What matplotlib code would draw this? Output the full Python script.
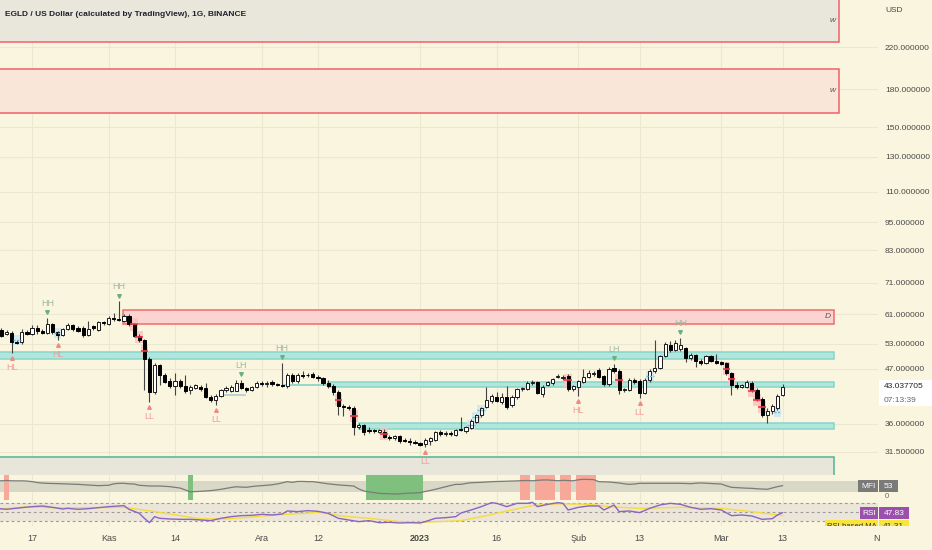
import numpy as np
import matplotlib
matplotlib.use('Agg')
import matplotlib.pyplot as plt
from matplotlib.patches import Rectangle
from matplotlib.transforms import offset_copy
import matplotlib.ticker as mticker

plt.rcParams['font.family'] = ['Liberation Sans', 'DejaVu Sans']

# ---------------- data ----------------
# day index 0 = 10 Oct 2022, 154 = 13 Mar 2023
opens = [56.0, 56.5, 55.5, 55.7, 53.5, 53.3, 56.0, 55.5, 57.1, 56.4,
         55.7, 58.3, 55.9, 55.3, 56.8, 57.9, 57.1, 57.1, 55.2, 57.6,
         56.6, 58.8, 58.3, 59.8, 59.5, 59.0, 60.6, 58.3, 55.0, 53.9,
         49.3, 42.0, 47.8, 45.6, 44.2, 43.2, 44.2, 43.3, 42.3, 42.9,
         43.0, 42.9, 41.0, 40.4, 41.2, 42.4, 42.2, 42.2, 43.8, 42.8,
         42.4, 43.0, 43.9, 43.6, 44.0, 43.6, 43.5, 43.2, 45.6, 44.2,
         45.6, 45.6, 45.8, 45.1, 44.8, 43.9, 43.2, 42.0, 39.2, 39.1,
         38.9, 35.4, 35.8, 35.0, 34.9, 34.7, 34.7, 33.8, 33.6, 33.9,
         33.3, 33.1, 33.0, 32.8, 32.7, 33.2, 33.4, 34.6, 34.3, 34.5,
         34.2, 35.2, 34.8, 35.3, 36.4, 37.5, 39.0, 40.3, 41.0, 40.0,
         41.0, 39.4, 40.9, 42.5, 42.6, 43.8, 44.0, 41.5, 43.5, 43.8,
         45.1, 44.9, 45.4, 42.5, 43.0, 44.1, 45.1, 45.7, 46.6, 45.3,
         43.6, 47.1, 46.5, 42.3, 42.4, 44.4, 44.3, 41.8, 44.4, 46.4,
         47.2, 50.0, 52.7, 51.5, 51.7, 51.8, 49.5, 50.2, 48.7, 48.3,
         49.8, 48.7, 48.4, 48.3, 46.0, 43.5, 43.1, 43.1, 43.9, 42.4,
         40.6, 37.6, 38.4, 38.8, 41.3]
highs = [57.4, 57.0, 56.5, 56.2, 54.0, 56.8, 56.5, 57.8, 57.8, 56.9,
         60.0, 58.6, 56.4, 57.2, 58.6, 58.3, 57.6, 57.6, 59.0, 58.0,
         59.2, 59.2, 60.6, 61.5, 64.9, 61.0, 61.0, 58.6, 55.4, 54.2,
         49.6, 48.2, 48.0, 46.0, 44.8, 46.1, 44.6, 45.6, 43.5, 43.6,
         43.4, 43.8, 41.4, 41.5, 42.6, 43.2, 43.4, 44.5, 44.5, 43.1,
         43.3, 44.3, 44.2, 44.3, 44.4, 43.9, 48.3, 46.0, 46.0, 45.9,
         46.4, 46.1, 46.2, 45.5, 45.2, 44.4, 43.6, 42.4, 39.6, 39.4,
         39.2, 36.2, 36.0, 35.4, 35.2, 35.1, 35.2, 34.1, 34.2, 34.1,
         33.6, 33.6, 33.3, 33.0, 33.6, 33.8, 34.8, 35.0, 34.8, 34.8,
         35.2, 37.3, 35.6, 36.8, 37.8, 39.1, 43.0, 41.5, 42.0, 41.8,
         43.2, 41.3, 42.9, 43.1, 44.2, 44.4, 44.3, 43.4, 44.3, 44.9,
         45.8, 45.6, 45.8, 43.5, 44.4, 47.0, 46.6, 46.4, 47.1, 45.6,
         47.4, 48.0, 46.8, 42.9, 44.8, 44.8, 44.6, 44.8, 46.8, 53.8,
         50.2, 53.4, 53.6, 53.8, 54.4, 52.2, 50.6, 50.5, 49.2, 50.2,
         50.2, 50.5, 48.8, 48.6, 46.3, 44.0, 43.6, 44.5, 44.3, 42.7,
         41.0, 38.8, 39.6, 41.6, 43.7]
lows = [55.6, 54.6, 55.2, 50.6, 52.8, 53.0, 55.1, 55.2, 55.6, 55.4,
        55.4, 55.5, 53.9, 55.0, 56.5, 56.4, 56.0, 54.8, 54.9, 56.6,
        56.3, 58.0, 58.0, 59.0, 59.0, 58.7, 57.6, 54.6, 53.5, 42.4,
        40.0, 41.5, 43.5, 43.8, 42.8, 41.3, 42.8, 41.8, 41.6, 42.5,
        42.2, 40.8, 40.1, 39.4, 40.9, 42.0, 41.9, 42.6, 42.5, 41.9,
        42.1, 42.8, 43.3, 43.0, 43.3, 43.2, 43.0, 42.9, 43.9, 43.9,
        45.0, 45.1, 44.8, 44.3, 43.5, 42.8, 41.4, 37.6, 37.4, 38.5,
        34.2, 35.1, 34.2, 34.4, 34.5, 34.4, 33.6, 33.4, 33.4, 32.9,
        33.0, 32.6, 32.7, 32.4, 32.3, 32.5, 33.2, 34.0, 34.0, 34.0,
        33.9, 34.8, 34.5, 35.1, 36.1, 37.3, 38.8, 39.9, 40.0, 39.7,
        38.6, 39.1, 40.6, 42.1, 42.4, 43.4, 41.5, 41.0, 43.2, 43.5,
        44.8, 44.5, 42.2, 42.1, 41.2, 43.8, 44.8, 45.3, 45.0, 43.3,
        43.3, 46.1, 41.6, 41.9, 42.1, 43.6, 40.8, 41.5, 44.1, 46.0,
        46.8, 49.6, 51.0, 51.1, 51.2, 48.6, 49.0, 47.4, 47.8, 48.0,
        48.4, 48.0, 47.7, 45.6, 41.4, 42.6, 42.8, 42.9, 42.0, 40.2,
        37.2, 36.2, 37.8, 38.5, 41.1]
closes = [56.5, 54.9, 56.0, 53.3, 53.1, 56.0, 55.5, 57.1, 56.2, 55.8,
          58.3, 55.9, 55.1, 56.8, 57.9, 56.8, 56.4, 55.2, 56.9, 57.0,
          58.8, 58.4, 60.0, 59.5, 59.4, 60.6, 58.1, 55.0, 53.9, 49.3,
          42.0, 47.8, 45.6, 44.0, 43.2, 44.2, 43.3, 42.2, 43.1, 43.4,
          42.5, 41.0, 40.4, 41.2, 42.4, 42.9, 43.1, 43.8, 42.8, 42.4,
          43.0, 43.9, 43.6, 43.9, 43.6, 43.5, 43.2, 45.6, 44.2, 45.5,
          45.4, 45.5, 45.1, 44.8, 43.9, 43.2, 42.0, 39.2, 39.0, 38.9,
          35.4, 35.9, 34.6, 34.8, 34.8, 35.0, 33.8, 33.6, 33.9, 33.1,
          33.2, 33.0, 32.9, 32.6, 33.4, 33.6, 34.6, 34.3, 34.5, 34.3,
          35.0, 35.0, 35.4, 36.6, 37.6, 38.9, 40.4, 41.1, 40.3, 41.0,
          39.1, 41.0, 42.6, 42.8, 43.9, 44.1, 41.8, 43.1, 44.0, 44.6,
          45.4, 45.2, 42.6, 43.3, 44.2, 45.1, 46.1, 46.1, 45.2, 43.6,
          46.9, 46.5, 42.3, 42.6, 44.5, 44.0, 41.8, 44.5, 46.4, 47.2,
          49.8, 52.9, 51.5, 53.2, 52.7, 49.4, 50.2, 48.7, 48.2, 49.8,
          48.7, 48.2, 48.0, 46.0, 43.5, 43.1, 43.4, 44.0, 42.4, 40.6,
          37.6, 38.3, 39.2, 41.2, 43.037705]

mfi = [80, 79.5, 81, 79.5, 79, 79.5, 78, 75, 70, 67,
       65.6, 65, 64, 63, 62, 61, 60, 58, 56.5, 55,
       53, 54, 55, 63, 65.6, 65.6, 63, 62, 55, 53,
       51, 51, 51, 49, 47.5, 44, 40, 30, 19.5, 20.5,
       22, 24, 26, 29, 33, 38, 43, 47, 45, 44,
       48, 51, 53, 55, 58, 62, 68, 75, 71, 76,
       76, 75, 75, 71, 67, 63, 60, 57, 55, 53,
       51, 35, 24, 19, 15, 11, 10, 9, 7.5, 8,
       11, 12, 13, 15, 21, 27, 33, 40, 47, 54,
       60, 60, 65, 69, 70, 71, 73, 74.7, 75.5, 76.5,
       77, 78, 79, 80.5, 81, 79.5, 82, 83.8, 84, 82,
       79.8, 82, 81, 79.5, 85, 87.5, 87, 86, 74.7, 74,
       73, 70, 67.5, 63, 60, 62, 65.6, 65.6, 65.6, 65.6,
       65.6, 65.6, 65.6, 65, 65.6, 64.5, 63.8, 66, 67.5, 66,
       64, 63, 62, 52, 43.8, 42, 40, 39, 38.4, 36,
       34.7, 33, 40, 47.5, 53]

rsi_days = [0, 2, 5, 7, 9, 11, 13, 14, 16, 18, 20, 22, 24, 25, 26, 28, 29, 30, 31, 32,
            34, 36, 38, 40, 42, 44, 46, 48, 50, 52, 54, 56, 57, 59, 61, 63, 65, 67, 69, 71,
            73, 75, 77, 79, 81, 83, 84, 86, 88, 90, 91, 93, 95, 97, 98, 100, 102, 104, 105, 106,
            108, 110, 111, 112, 114, 116, 118, 119, 121, 122, 124, 126, 128, 130, 132, 134, 136, 138, 140, 142,
            144, 146, 148, 150, 152, 153, 154]
rsi_vals = [57.5, 55.3, 59, 61.2, 62.7, 59.7, 56, 57.5, 55.3, 56.7, 59, 61.2, 62.7, 63.4, 55.3, 46.4, 35.3, 25.6, 39, 35.3,
            33.8, 33, 33, 31.6, 30.1, 35.3, 39, 41.2, 41.9, 44.2, 42.7, 44.9, 51.6, 50.1, 52.3, 50.8, 46.4, 35.3, 31.6, 27.9,
            30.1, 25.6, 26.4, 24.9, 25.6, 24.9, 27.9, 35.3, 36.7, 39, 47, 53.8, 61.2, 70.1, 68.6, 61.2, 68.6, 68.6, 70.8, 61.2,
            66.4, 70.1, 68.6, 53.8, 59.7, 62.7, 62.7, 53.8, 64.9, 50.1, 51.6, 47.9, 57.5, 64.9, 68.6, 66.4, 59.7, 55.3, 56.7, 53.8,
            41.2, 42.7, 40.4, 33, 34.5, 42.7, 47.83]
ma_days = [0, 6, 13, 20, 25, 30, 35, 40, 45, 50, 55, 60, 63, 68, 73, 79, 83, 89, 91, 95,
           101, 105, 110, 116, 120, 126, 134, 142, 148, 153, 154]
ma_vals = [55.3, 60.5, 58.5, 59, 59.7, 52, 43, 34, 34, 38, 43, 46, 49, 40, 35.3, 27.9, 26.4, 29, 30.1, 39,
           53.8, 63.5, 67.5, 66.5, 61.2, 57.5, 59.7, 57.5, 50.1, 42.7, 41.31]

price_ticks = [220, 180, 150, 130, 110, 95, 83, 71, 61, 53, 47, 36, 31.5]
date_days = [7, 22, 35, 52, 63, 83, 98, 114, 126, 142, 154, 172.5]
date_labels = ['17', 'Kas', '14', 'Ara', '12', '2023', '16', 'Şub', '13', 'Mar', '13', 'N']

top_swings_days = [10, 24, 48, 56, 121, 134]
top_swings_lbl = ['HH', 'HH', 'LH', 'HH', 'LH', 'HH']
bot_swings_days = [3, 12, 30, 43, 84, 114, 126]
bot_swings_lbl = ['HL', 'HL', 'LL', 'LL', 'LL', 'HL', 'LL']

red_sig_days = [27, 28, 29, 67, 70, 76, 112, 122, 143, 144, 148, 149, 150]
red_sig_lvls = [58.1, 54.7, 51.1, 40.4, 37.4, 34.3, 44.4, 44.5, 47.0, 44.6, 42.2, 40.4, 39.0]
blue_sig_days = [4, 12, 93, 94, 95, 128, 153]
blue_sig_lvls = [54.0, 55.7, 35.8, 37.2, 38.5, 45.4, 38.2]

# zones: (start day, end day, low price, high price, fill, edge, label)
zones = [
    (-5, 165, 226.0, 400.0, '#e9e7db', '#f0606a', 'w'),
    (-5, 165, 160.7, 198.3, '#f9e6d8', '#f0606a', 'w'),
    (24.9, 164, 58.3, 62.2, '#fbd4d2', '#ee6b6b', 'D'),
    (-5, 164, 49.1, 50.9, '#b2e6dc', '#86d6cb', ''),
    (65, 164, 43.0, 44.0, '#b2e6dc', '#86d6cb', ''),
    (71, 164, 35.1, 36.2, '#b2e6dc', '#86d6cb', ''),
    (-5, 164, 20.0, 30.7, '#e8e6da', '#4fb596', ''),
]

BG = '#f9f5de'
GRID = '#ece8d0'
TXT = '#4a4a4a'
W, H = 932, 550

fig = plt.figure(figsize=(W / 100, H / 100), dpi=100, facecolor=BG)


def fax(x0, y0, x1, y1):
    a = fig.add_axes([x0 / W, 1 - y1 / H, (x1 - x0) / W, (y1 - y0) / H])
    a.set_facecolor(BG)
    for s in a.spines.values():
        s.set_visible(False)
    return a


XL = (0.725, 172.7)
ax = fax(0, 0, 878, 475)
axm = fax(0, 475, 878, 500)
axr = fax(0, 500, 878, 526)

# ---------------- main pane ----------------
ax.set_yscale('log')
ax.set_ylim(28.17, 276.4)
ax.set_xlim(*XL)
for p in price_ticks:
    ax.axhline(p, color=GRID, lw=0.8, zorder=0)
for a_ in (ax, axm, axr):
    for dd in date_days[:-1]:
        a_.axvline(dd, color=GRID, lw=0.8, zorder=0)

for (x0, x1, lo, hi, fc, ec, lbl) in zones:
    ax.add_patch(Rectangle((x0, lo), x1 - x0, hi - lo, facecolor=fc, edgecolor=ec,
                           lw=1.1, zorder=1))
    if lbl:
        top = min(hi, ax.get_ylim()[1])
        ax.text(x1 - 0.6, np.sqrt(lo * top), lbl, fontsize=6, style='italic',
                color='#555555', ha='right', va='center', zorder=7)

# small helper lines
ax.hlines(41.4, 44, 49, color='#b5c9d6', lw=1.2, zorder=2)
ax.hlines(43.5, 56, 65, color='#80d4c9', lw=1.2, zorder=2)

d = np.arange(len(closes))
o = np.array(opens); c = np.array(closes); hi_ = np.array(highs); lo_ = np.array(lows)
up = c >= o

# signal boxes
for dd, lv in zip(red_sig_days, red_sig_lvls):
    ax.add_patch(Rectangle((dd - 0.75, lv / 1.03), 1.5, lv * 1.03 - lv / 1.03,
                           facecolor='#f8c4c0', edgecolor='none', alpha=0.85, zorder=3))
for dd, lv in zip(blue_sig_days, blue_sig_lvls):
    ax.add_patch(Rectangle((dd - 0.75, lv / 1.025), 1.5, lv * 1.025 - lv / 1.025,
                           facecolor='#cfe8f0', edgecolor='none', alpha=0.85, zorder=3))

ax.vlines(d, lo_, hi_, color='#444444', lw=0.8, zorder=4)
ax.bar(d[up], np.maximum((c - o)[up], 0.05), bottom=o[up], width=0.62, color='white',
       edgecolor='#1a1a1a', lw=0.7, zorder=5)
ax.bar(d[~up], (o - c)[~up], bottom=c[~up], width=0.62, color='#000000',
       edgecolor='#000000', lw=0.7, zorder=5)

ax.hlines(red_sig_lvls, np.array(red_sig_days) - 0.75, np.array(red_sig_days) + 0.75,
          color='#f23645', lw=1.2, zorder=6)
ax.hlines(blue_sig_lvls, np.array(blue_sig_days) - 0.75, np.array(blue_sig_days) + 0.75,
          color='#6bb8dc', lw=1.0, linestyles=(0, (1.5, 1)), zorder=6)

# swing labels
tri_up = offset_copy(ax.transData, fig=fig, y=4.2, units='points')
txt_up = offset_copy(ax.transData, fig=fig, y=10.5, units='points')
tri_dn = offset_copy(ax.transData, fig=fig, y=-3.8, units='points')
txt_dn = offset_copy(ax.transData, fig=fig, y=-10.5, units='points')
th = [highs[i] for i in top_swings_days]
tl = [lows[i] for i in bot_swings_days]
ax.plot(top_swings_days, th, 'v', ms=2.6, color='#6fae80', transform=tri_up, zorder=7)
ax.plot(bot_swings_days, tl, '^', ms=2.6, color='#f08a84', transform=tri_dn, zorder=7)
for dd, pv, lb in zip(top_swings_days, th, top_swings_lbl):
    ax.text(dd, pv, lb, transform=txt_up, ha='center', va='center', fontsize=6.5,
            color='#a3b7a3', zorder=7)
for dd, pv, lb in zip(bot_swings_days, tl, bot_swings_lbl):
    ax.text(dd, pv, lb, transform=txt_dn, ha='center', va='center', fontsize=6.5,
            color='#f29d97', zorder=7)

ax.yaxis.tick_right()
ax.set_yticks(price_ticks)
ax.yaxis.set_minor_locator(mticker.NullLocator())
ax.set_yticklabels(['%.6f' % p for p in price_ticks])
ax.tick_params(axis='y', length=0, pad=5, labelsize=6, labelcolor=TXT)
ax.tick_params(axis='x', length=0, labelbottom=False)

# ---------------- MFI pane ----------------
axm.set_xlim(*XL)
axm.set_ylim(-25.3, 111.1)
axm.axhspan(20, 80, color='#d9d7c6', zorder=1, lw=0)
mfi_a = np.array(mfi)
for i, v in enumerate(mfi_a):
    if v > 80:
        axm.axvspan(i - 0.5, i + 0.5, color='#f7a898', zorder=2, lw=0)
    elif v < 20:
        axm.axvspan(i - 0.5, i + 0.5, color='#80c07e', zorder=2, lw=0)
axm.plot(d, mfi_a, color='#7b7b7b', lw=0.9, zorder=3)
axm.set_xticks([]); axm.set_yticks([])

# ---------------- RSI pane ----------------
axr.set_xlim(*XL)
axr.set_ylim(18.2, 76)
axr.axhspan(30, 70, color='#ece6da', zorder=1, lw=0)
for lv in (70, 50, 30):
    axr.axhline(lv, color='#9a9a9a', lw=0.8, ls=(0, (2.5, 2.5)), zorder=2)
axr.plot(ma_days, ma_vals, color='#f5dc3a', lw=1.0, zorder=3)
axr.plot(rsi_days, rsi_vals, color='#8a64c0', lw=1.0, zorder=4)
axr.set_yticks([])
axr.set_xticks(date_days)
axr.set_xticklabels(date_labels)
axr.tick_params(axis='x', length=0, pad=6, labelsize=6.5, labelcolor=TXT)
axr.get_xticklabels()[5].set_fontweight('bold')

# ---------------- right-side overlay labels ----------------
axo = fax(800, 474, 932, 526)
axo.patch.set_alpha(0)
axo.set_xlim(800, 932); axo.set_ylim(526, 474)
axo.set_xticks([]); axo.set_yticks([])


def box(x0, x1, y0, y1, fc, t, tc, fs=6):
    axo.add_patch(Rectangle((x0, y0), x1 - x0, y1 - y0, facecolor=fc, edgecolor='none'))
    axo.text((x0 + x1) / 2, (y0 + y1) / 2 + 0.3, t, ha='center', va='center',
             fontsize=fs, color=tc, clip_on=True)


box(858, 878, 480, 492, '#7a7a78', 'MFI', 'white')
box(878.7, 897.5, 480, 492, '#7a7a78', '53', 'white')
axo.text(887, 496.5, '0', ha='center', va='center', fontsize=5.5, color='#666666')
box(860, 878, 507, 519, '#9c50ae', 'RSI', 'white')
box(878.7, 909, 507, 519, '#9c50ae', '47.83', 'white')
box(825, 878, 520.3, 532, '#f7e43c', 'RSI-based MA', '#333333', 5.5)
box(878.7, 909, 520.3, 532, '#f7e43c', '41.31', '#333333')

# price label & misc text
fig.patches.append(Rectangle((879 / W, 1 - 406 / H), 53 / W, 26 / H, transform=fig.transFigure,
                             facecolor='white', edgecolor='none', zorder=5))
fig.text(884 / W, 1 - 387 / H, '43.037705', fontsize=6, color='#222222', va='center', zorder=6)
fig.text(884 / W, 1 - 400 / H, '07:13:39', fontsize=6, color='#666666', va='center', zorder=6)
fig.text(885 / W, 1 - 11 / H, 'USD', fontsize=6, color=TXT, va='center')
fig.text(5 / W, 1 - 14 / H, 'EGLD / US Dollar (calculated by TradingView), 1G, BINANCE',
         fontsize=6, fontweight='bold', color='#1e222d', va='center', zorder=6)

fig.savefig('out.png', dpi=100, facecolor=BG)
